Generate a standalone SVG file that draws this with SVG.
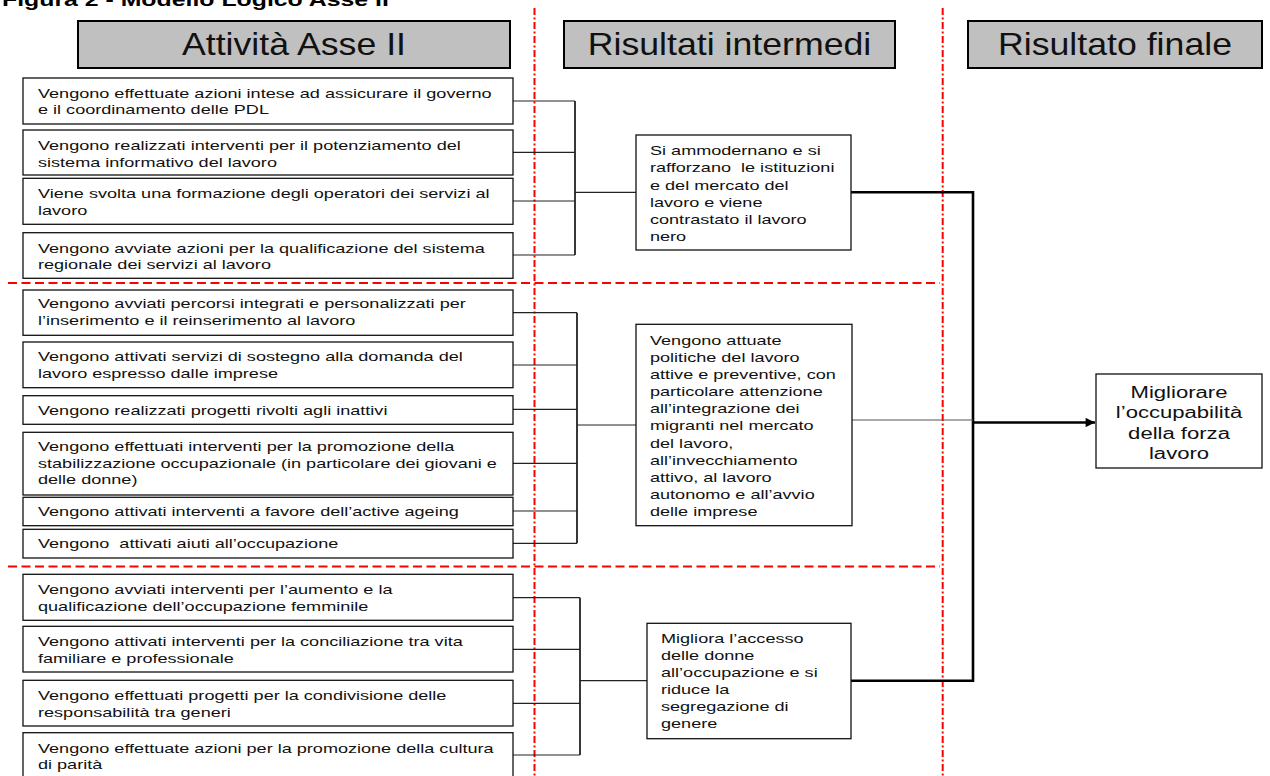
<svg xmlns="http://www.w3.org/2000/svg" width="1270" height="776" viewBox="0 0 1270 776">
  <style>
    .box { fill: #fff; stroke: #111; stroke-width: 1.3; }
    .hdr { fill: #c0c0c0; stroke: #000; stroke-width: 2; }
    .t { font-family: "Liberation Sans", Arial, sans-serif; font-size: 13px; fill: #111; }
    .tm { font-family: "Liberation Sans", Arial, sans-serif; font-size: 13px; fill: #111; }
    .tf { font-family: "Liberation Sans", Arial, sans-serif; font-size: 16px; fill: #111; text-anchor: middle; }
    .th { font-family: "Liberation Sans", Arial, sans-serif; font-size: 30.5px; fill: #111; text-anchor: middle; }
    .title { font-family: "Liberation Sans", Arial, sans-serif; font-size: 18px; font-weight: bold; fill: #000; }
    .conn { stroke: #222; stroke-width: 1.2; fill: none; }
    .brk { stroke: #222; stroke-width: 1.8; fill: none; }
    .thin { stroke: #555; stroke-width: 1.2; fill: none; }
    .thick { stroke: #000; stroke-width: 2.6; fill: none; }
    .sepv { stroke: #f00; stroke-width: 2; stroke-dasharray: 7 2.5 2 2.5; fill: none; }
    .seph { stroke: #f00; stroke-width: 2; stroke-dasharray: 9 4.5; fill: none; }
  </style>
  <defs>
    <marker id="arrow" viewBox="0 0 10 10" refX="10" refY="5" markerWidth="4.5" markerHeight="3.6" markerUnits="strokeWidth" orient="auto">
      <path d="M0,0 L10,5 L0,10 z" fill="#000"/>
    </marker>
  </defs>

  <rect width="1270" height="776" fill="#fff"/>

  <!-- figure caption (top edge) -->
  <text class="title" transform="translate(2,6) scale(1.38,1)">Figura 2 - Modello Logico Asse II</text>

  <!-- column separators -->
  <g id="separators">
    <line class="sepv" x1="534.5" y1="8" x2="534.5" y2="776"/>
    <line class="sepv" x1="942.7" y1="8" x2="942.7" y2="776"/>
    <line class="seph" x1="8" y1="283" x2="940" y2="283"/>
    <line class="seph" x1="8" y1="566.5" x2="940" y2="566.5"/>
  </g>

  <!-- column headers -->
  <g id="hdr-attivita">
    <rect class="hdr" x="78" y="21" width="432" height="47"/>
    <text class="th" transform="translate(294,55) scale(1.17,1)">Attività Asse II</text>
  </g>
  <g id="hdr-intermedi">
    <rect class="hdr" x="564" y="21" width="331" height="47"/>
    <text class="th" transform="translate(729.5,55) scale(1.17,1)">Risultati intermedi</text>
  </g>
  <g id="hdr-finale">
    <rect class="hdr" x="968" y="21" width="294" height="47"/>
    <text class="th" transform="translate(1115,55) scale(1.17,1)">Risultato finale</text>
  </g>

  <!-- connectors -->
  <g id="connectors">
    <!-- group 1 -->
    <path class="conn" d="M513,101 H575 M513,152.3 H575 M513,201 H575 M513,255 H575"/>
    <path class="brk" d="M575,101 V255"/>
    <path class="conn" d="M575,192.3 H636"/>
    <!-- group 2 -->
    <path class="conn" d="M513,312.7 H577 M513,365 H577 M513,409.3 H577 M513,463.3 H577 M513,511 H577 M513,543.3 H577"/>
    <path class="brk" d="M577,312.7 V543.3"/>
    <path class="conn" d="M577,425 H636"/>
    <!-- group 3 -->
    <path class="conn" d="M513,597.7 H580 M513,649.3 H580 M513,703.3 H580 M513,755 H580"/>
    <path class="brk" d="M580,597.7 V755"/>
    <path class="conn" d="M580,680.7 H647"/>
    <!-- toward the final result -->
    <path class="thick" d="M851,192.3 H973 V680.7 H851"/>
    <path class="thin" d="M852,420 H973"/>
    <path class="thick" d="M973,422.5 H1095" marker-end="url(#arrow)"/>
  </g>

  <!-- activities -->
  <g id="a1">
    <rect class="box" x="23" y="78" width="490" height="46"/>
    <text class="t" transform="translate(38,97.7) scale(1.39,1)"><tspan x="0" y="0">Vengono effettuate azioni intese ad assicurare il governo</tspan><tspan x="0" y="16.7">e il coordinamento delle PDL</tspan></text>
  </g>
  <g id="a2">
    <rect class="box" x="23" y="130" width="490" height="45"/>
    <text class="t" transform="translate(38,150) scale(1.39,1)"><tspan x="0" y="0">Vengono realizzati interventi per il potenziamento del</tspan><tspan x="0" y="16.7">sistema informativo del lavoro</tspan></text>
  </g>
  <g id="a3">
    <rect class="box" x="23" y="178.3" width="490" height="46"/>
    <text class="t" transform="translate(38,198.3) scale(1.39,1)"><tspan x="0" y="0">Viene svolta una formazione degli operatori dei servizi al</tspan><tspan x="0" y="16.7">lavoro</tspan></text>
  </g>
  <g id="a4">
    <rect class="box" x="23" y="232.7" width="490" height="45.6"/>
    <text class="t" transform="translate(38,252.7) scale(1.39,1)"><tspan x="0" y="0">Vengono avviate azioni per la qualificazione del sistema</tspan><tspan x="0" y="16.7">regionale dei servizi al lavoro</tspan></text>
  </g>
  <g id="a5">
    <rect class="box" x="23" y="290" width="490" height="45.3"/>
    <text class="t" transform="translate(38,307.7) scale(1.39,1)"><tspan x="0" y="0">Vengono avviati percorsi integrati e personalizzati per</tspan><tspan x="0" y="17.3">l’inserimento e il reinserimento al lavoro</tspan></text>
  </g>
  <g id="a6">
    <rect class="box" x="23" y="342" width="490" height="45.7"/>
    <text class="t" transform="translate(38,361) scale(1.39,1)"><tspan x="0" y="0">Vengono attivati servizi di sostegno alla domanda del</tspan><tspan x="0" y="17">lavoro espresso dalle imprese</tspan></text>
  </g>
  <g id="a7">
    <rect class="box" x="23" y="395.7" width="490" height="28.6"/>
    <text class="t" transform="translate(38,415) scale(1.39,1)">Vengono realizzati progetti rivolti agli inattivi</text>
  </g>
  <g id="a8">
    <rect class="box" x="23" y="432.3" width="490" height="62.7"/>
    <text class="t" transform="translate(38,451) scale(1.39,1)"><tspan x="0" y="0">Vengono effettuati interventi per la promozione della</tspan><tspan x="0" y="16.7">stabilizzazione occupazionale (in particolare dei giovani e</tspan><tspan x="0" y="33.3">delle donne)</tspan></text>
  </g>
  <g id="a9">
    <rect class="box" x="23" y="497.3" width="490" height="28.4"/>
    <text class="t" transform="translate(38,516) scale(1.39,1)">Vengono attivati interventi a favore dell’active ageing</text>
  </g>
  <g id="a10">
    <rect class="box" x="23" y="529.3" width="490" height="28.7"/>
    <text class="t" transform="translate(38,548.3) scale(1.39,1)" xml:space="preserve">Vengono  attivati aiuti all’occupazione</text>
  </g>
  <g id="a11">
    <rect class="box" x="23" y="574.3" width="490" height="46"/>
    <text class="t" transform="translate(38,594.3) scale(1.39,1)"><tspan x="0" y="0">Vengono avviati interventi per l’aumento e la</tspan><tspan x="0" y="16.7">qualificazione dell’occupazione femminile</tspan></text>
  </g>
  <g id="a12">
    <rect class="box" x="23" y="626.3" width="490" height="45.7"/>
    <text class="t" transform="translate(38,646) scale(1.39,1)"><tspan x="0" y="0">Vengono attivati interventi per la conciliazione tra vita</tspan><tspan x="0" y="16.7">familiare e professionale</tspan></text>
  </g>
  <g id="a13">
    <rect class="box" x="23" y="680.3" width="490" height="45.7"/>
    <text class="t" transform="translate(38,700) scale(1.39,1)"><tspan x="0" y="0">Vengono effettuati progetti per la condivisione delle</tspan><tspan x="0" y="16.7">responsabilità tra generi</tspan></text>
  </g>
  <g id="a14">
    <rect class="box" x="23" y="732.7" width="490" height="60"/>
    <text class="t" transform="translate(38,752.7) scale(1.39,1)"><tspan x="0" y="0">Vengono effettuate azioni per la promozione della cultura</tspan><tspan x="0" y="16.7">di parità</tspan></text>
  </g>

  <!-- intermediate results -->
  <g id="r1">
    <rect class="box" x="636" y="135" width="215" height="115"/>
    <text class="tm" transform="translate(650,155) scale(1.39,1)"><tspan x="0" y="0">Si ammodernano e si</tspan><tspan x="0" y="17.3" xml:space="preserve">rafforzano  le istituzioni</tspan><tspan x="0" y="34.6">e del mercato del</tspan><tspan x="0" y="51.9">lavoro e viene</tspan><tspan x="0" y="69.2">contrastato il lavoro</tspan><tspan x="0" y="86.5">nero</tspan></text>
  </g>
  <g id="r2">
    <rect class="box" x="636" y="324.3" width="216" height="201.4"/>
    <text class="tm" transform="translate(650,345) scale(1.39,1)"><tspan x="0" y="0">Vengono attuate</tspan><tspan x="0" y="17.1">politiche del lavoro</tspan><tspan x="0" y="34.2">attive e preventive, con</tspan><tspan x="0" y="51.3">particolare attenzione</tspan><tspan x="0" y="68.4">all’integrazione dei</tspan><tspan x="0" y="85.5">migranti nel mercato</tspan><tspan x="0" y="102.6">del lavoro,</tspan><tspan x="0" y="119.7">all’invecchiamento</tspan><tspan x="0" y="136.8">attivo, al lavoro</tspan><tspan x="0" y="153.9">autonomo e all’avvio</tspan><tspan x="0" y="171">delle imprese</tspan></text>
  </g>
  <g id="r3">
    <rect class="box" x="647" y="623.3" width="204" height="115.4"/>
    <text class="tm" transform="translate(661,643.3) scale(1.39,1)"><tspan x="0" y="0">Migliora l’accesso</tspan><tspan x="0" y="17">delle donne</tspan><tspan x="0" y="34">all’occupazione e si</tspan><tspan x="0" y="51">riduce la</tspan><tspan x="0" y="68">segregazione di</tspan><tspan x="0" y="85">genere</tspan></text>
  </g>

  <!-- final result -->
  <g id="final">
    <rect class="box" x="1096" y="374" width="166" height="94"/>
    <text class="tf" transform="translate(1179,398) scale(1.38,1)"><tspan x="0" y="0">Migliorare</tspan><tspan x="0" y="20.5">l’occupabilità</tspan><tspan x="0" y="41">della forza</tspan><tspan x="0" y="61.5">lavoro</tspan></text>
  </g>
</svg>
